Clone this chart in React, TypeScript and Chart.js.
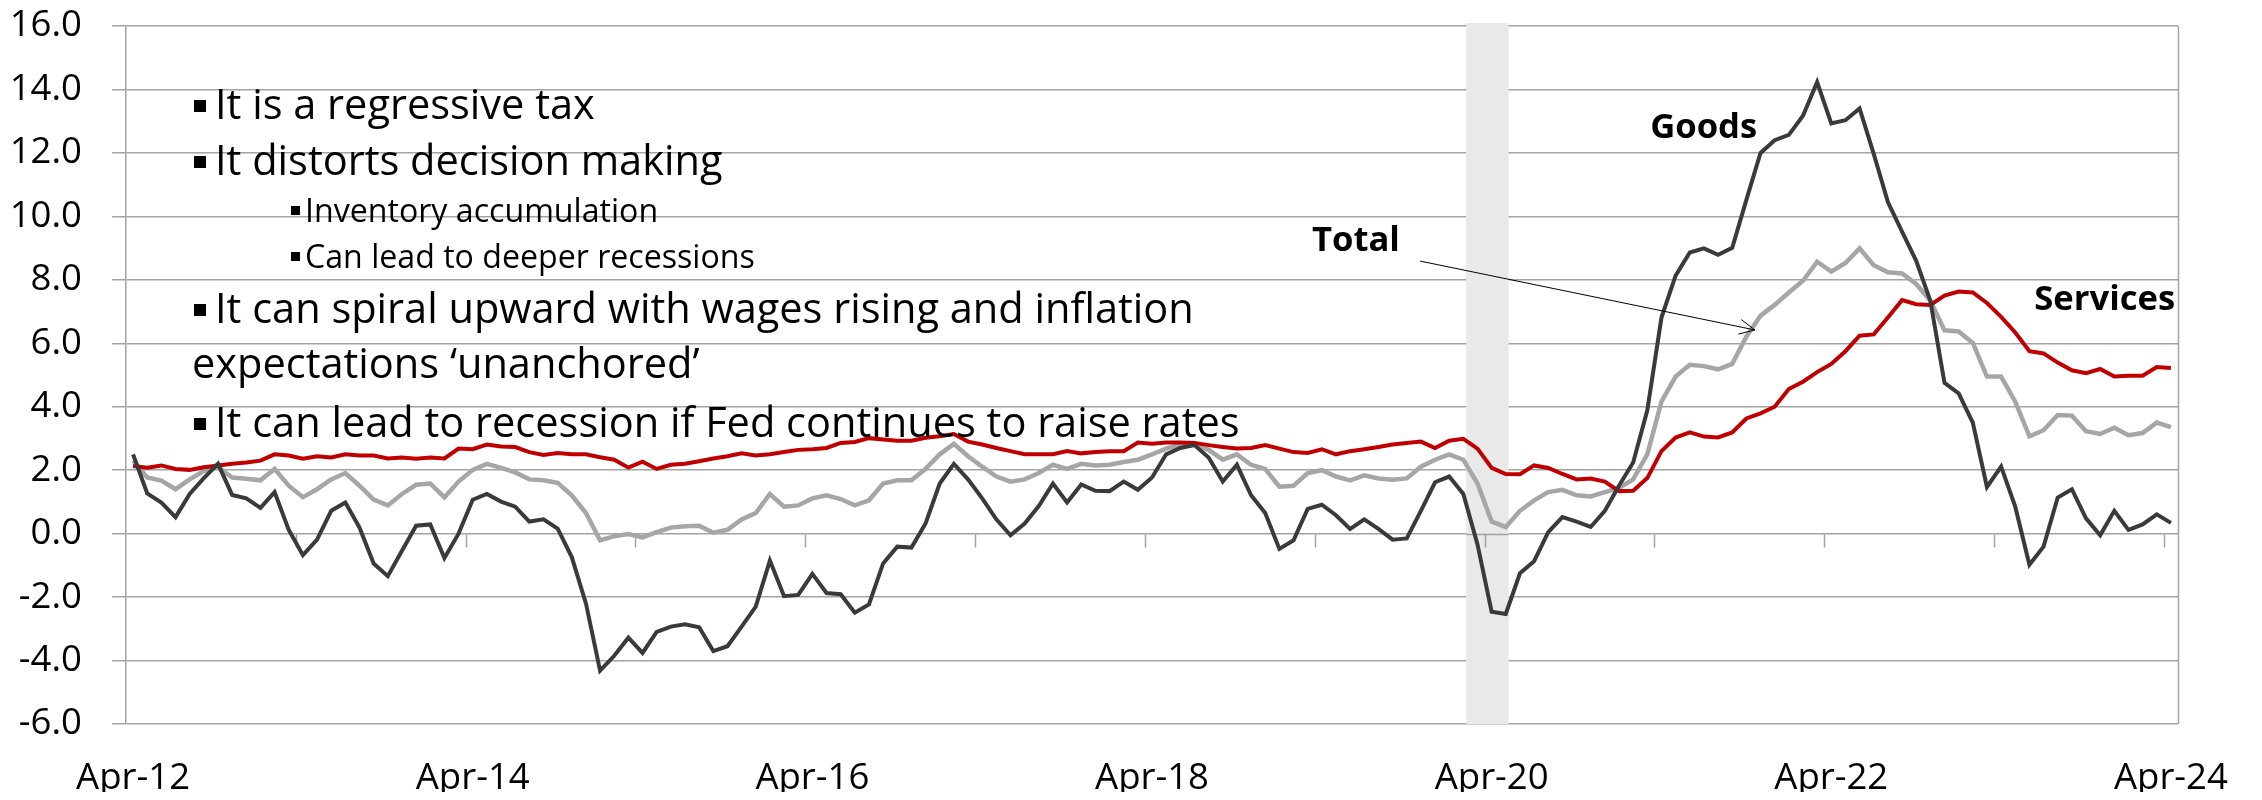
import React, { useEffect, useRef } from 'react';
import { Chart, registerables } from 'chart.js';

Chart.register(...registerables);

// ---------- data ----------
const MONTH_NAMES = ['Jan', 'Feb', 'Mar', 'Apr', 'May', 'Jun', 'Jul', 'Aug', 'Sep', 'Oct', 'Nov', 'Dec'];
const FIRST_YEAR = 2012;
const FIRST_MONTH = 3; // April
const N_MONTHS = 145; // Apr-12 .. Apr-24

const categories: string[] = [];
for (let i = 0; i < N_MONTHS; i++) {
  const m = (FIRST_MONTH + i) % 12;
  const yr = FIRST_YEAR + Math.floor((FIRST_MONTH + i) / 12);
  categories.push(`${MONTH_NAMES[m]}-${String(yr).slice(2)}`);
}

const goods = [
  2.5, 1.27, 0.98, 0.52, 1.25, 1.75, 2.2, 1.22, 1.11, 0.81, 1.31, 0.12,
  -0.68, -0.19, 0.72, 0.98, 0.19, -0.94, -1.34, -0.54, 0.25, 0.29, -0.77, 0.0,
  1.07, 1.25, 1.01, 0.85, 0.38, 0.45, 0.16, -0.74, -2.2, -4.32, -3.85, -3.28,
  -3.76, -3.1, -2.93, -2.86, -2.95, -3.7, -3.55, -2.93, -2.3, -0.85, -1.97, -1.93,
  -1.27, -1.87, -1.91, -2.49, -2.23, -0.94, -0.41, -0.44, 0.32, 1.58, 2.2, 1.71,
  1.11, 0.45, -0.05, 0.32, 0.87, 1.58, 0.98, 1.55, 1.35, 1.34, 1.64, 1.38,
  1.77, 2.5, 2.7, 2.79, 2.4, 1.64, 2.17, 1.21, 0.65, -0.48, -0.21, 0.78,
  0.91, 0.58, 0.15, 0.45, 0.15, -0.19, -0.15, 0.72, 1.62, 1.8, 1.25, -0.34,
  -2.46, -2.53, -1.25, -0.87, 0.05, 0.52, 0.38, 0.21, 0.72, 1.51, 2.24, 3.89,
  6.81, 8.13, 8.86, 8.99, 8.79, 9.01, 10.52, 12.0, 12.4, 12.57, 13.17, 14.23,
  12.93, 13.03, 13.4, 11.97, 10.45, 9.52, 8.6, 7.34, 4.75, 4.42, 3.5, 1.47,
  2.11, 0.85, -0.98, -0.41, 1.14, 1.4, 0.48, -0.05, 0.72, 0.12, 0.29, 0.61,
  0.34,
];

const total = [
  2.3, 1.77, 1.67, 1.4, 1.71, 1.97, 2.1, 1.77, 1.73, 1.68, 2.04, 1.51,
  1.15, 1.4, 1.71, 1.91, 1.51, 1.07, 0.89, 1.25, 1.54, 1.58, 1.14, 1.64,
  2.01, 2.2, 2.07, 1.93, 1.71, 1.68, 1.6, 1.21, 0.65, -0.21, -0.08, -0.01,
  -0.12, 0.05, 0.19, 0.23, 0.25, 0.03, 0.12, 0.45, 0.65, 1.25, 0.85, 0.89,
  1.11, 1.21, 1.09, 0.89, 1.05, 1.58, 1.68, 1.68, 2.04, 2.5, 2.83, 2.44,
  2.11, 1.8, 1.64, 1.71, 1.91, 2.17, 2.04, 2.2, 2.15, 2.17, 2.26, 2.33,
  2.5, 2.68, 2.81, 2.81, 2.64, 2.33, 2.5, 2.17, 2.04, 1.48, 1.51, 1.91,
  2.0, 1.8, 1.68, 1.84, 1.74, 1.7, 1.74, 2.11, 2.33, 2.5, 2.33, 1.58,
  0.38, 0.21, 0.72, 1.05, 1.31, 1.38, 1.21, 1.17, 1.31, 1.44, 1.71, 2.5,
  4.16, 4.95, 5.32, 5.28, 5.18, 5.35, 6.21, 6.87, 7.21, 7.6, 7.97, 8.57,
  8.26, 8.53, 8.99, 8.46, 8.24, 8.2, 7.87, 7.34, 6.41, 6.37, 6.01, 4.95,
  4.95, 4.16, 3.07, 3.26, 3.74, 3.72, 3.23, 3.14, 3.34, 3.1, 3.17, 3.5,
  3.36,
];

const services = [
  2.13, 2.08, 2.15, 2.04, 2.01, 2.09, 2.15, 2.2, 2.24, 2.3, 2.5, 2.46,
  2.36, 2.44, 2.4, 2.5, 2.46, 2.46, 2.37, 2.4, 2.36, 2.4, 2.37, 2.68,
  2.66, 2.81, 2.75, 2.73, 2.57, 2.48, 2.54, 2.5, 2.5, 2.41, 2.33, 2.08,
  2.27, 2.04, 2.17, 2.2, 2.28, 2.37, 2.44, 2.53, 2.46, 2.5, 2.57, 2.64,
  2.66, 2.7, 2.86, 2.89, 3.01, 2.97, 2.93, 2.93, 3.02, 3.07, 3.14, 2.9,
  2.81, 2.7, 2.6, 2.5, 2.5, 2.5, 2.6, 2.53, 2.57, 2.6, 2.6, 2.87,
  2.83, 2.87, 2.87, 2.86, 2.79, 2.73, 2.68, 2.7, 2.79, 2.68, 2.57, 2.54,
  2.66, 2.5, 2.6, 2.66, 2.73, 2.81, 2.86, 2.9, 2.7, 2.93, 2.99, 2.68,
  2.07, 1.88, 1.87, 2.15, 2.07, 1.88, 1.71, 1.74, 1.64, 1.34, 1.35, 1.75,
  2.6, 3.03, 3.19, 3.06, 3.03, 3.19, 3.63, 3.79, 4.0, 4.56, 4.79, 5.09,
  5.35, 5.75, 6.24, 6.28, 6.81, 7.36, 7.23, 7.21, 7.5, 7.63, 7.6, 7.27,
  6.83, 6.34, 5.75, 5.68, 5.39, 5.15, 5.06, 5.19, 4.95, 4.98, 4.98, 5.25,
  5.22,
];

const Y_MIN = -6;
const Y_MAX = 16;
const Y_STEP = 2;
const LABEL_EVERY = 24; // months between x labels
const TICK_EVERY = 12; // months between tick marks

// recession shading (category index units)
const RECESSION_FROM = 94.2;
const RECESSION_TO = 97.2;

const bulletLines = [
  { text: 'It is a regressive tax', level: 1 },
  { text: 'It distorts decision making', level: 1 },
  { text: 'Inventory accumulation', level: 2 },
  { text: 'Can lead to deeper recessions', level: 2 },
  { text: 'It can spiral upward with wages rising and inflation', level: 1 },
  { text: 'expectations \u2018unanchored\u2019', level: 0 },
  { text: 'It can lead to recession if Fed continues to raise rates', level: 1 },
];

// ---------- style ----------
const FONT = "'Open Sans', 'Noto Sans', sans-serif";
const GRID = '#a3a3a3';
const BAND = '#e9e9e9';
const C_GOODS = '#3a3a3a';
const C_TOTAL = '#a6a6a6';
const C_SERV = '#c00000';

const W = 2262;
const H = 800;

function fitSize(text: string, weight: string, target: number): number {
  const c = document.createElement('canvas').getContext('2d')!;
  c.font = `${weight} 100px ${FONT}`;
  return (100 * target) / c.measureText(text).width;
}

export default function App() {
  const ref = useRef<HTMLCanvasElement | null>(null);

  useEffect(() => {
    if (!ref.current) return;
    const axisSize = fitSize('Apr-12', 'normal', 114);
    const bigSize = fitSize(bulletLines[6].text, 'normal', 1025);
    const smallSize = fitSize(bulletLines[3].text, 'normal', 450);
    const boldSize = fitSize('Services', 'bold', 141);

    // text block layout (canvas px)
    const baselines = [119, 175, 222, 268, 323, 378, 437];

    const annot = {
      id: 'annot',
      beforeDatasetsDraw(chart: any) {
        const { ctx, chartArea: a, scales } = chart;
        const x = scales.x;
        const y = scales.y;
        ctx.save();
        const bx0 = x.getPixelForValue(RECESSION_FROM);
        const bx1 = x.getPixelForValue(RECESSION_TO);
        ctx.fillStyle = BAND;
        ctx.fillRect(bx0, a.top - 3, bx1 - bx0, a.bottom - a.top + 3);

        ctx.strokeStyle = GRID;
        ctx.lineWidth = 1.5;
        const y0 = Math.round(y.getPixelForValue(0)) + 0.5;
        ctx.beginPath();
        ctx.moveTo(bx0, y0);
        ctx.lineTo(bx1, y0);
        ctx.stroke();
        for (let k = 1; k * TICK_EVERY < categories.length; k++) {
          const px = Math.round(x.getPixelForValue(k * TICK_EVERY - 0.5)) + 0.5;
          ctx.beginPath();
          ctx.moveTo(px, y0);
          ctx.lineTo(px, y0 + 13);
          ctx.stroke();
        }
        ctx.beginPath();
        const rx = Math.round(a.right) + 0.5;
        ctx.moveTo(rx, a.top);
        ctx.lineTo(rx, a.bottom);
        ctx.stroke();
        ctx.restore();
      },
      afterDatasetsDraw(chart: any) {
        const { ctx, scales } = chart;
        const x = scales.x;
        const y = scales.y;
        ctx.save();
        ctx.fillStyle = '#000';
        ctx.textBaseline = 'alphabetic';
        ctx.textAlign = 'left';

        bulletLines.forEach((ln, i) => {
          const b = baselines[i];
          if (ln.level === 1) {
            ctx.fillRect(194, b - 19, 12, 12);
            ctx.font = `${bigSize}px ${FONT}`;
            ctx.fillText(ln.text, 215, b);
          } else if (ln.level === 2) {
            ctx.fillRect(291, b - 16, 9, 9);
            ctx.font = `${smallSize}px ${FONT}`;
            ctx.fillText(ln.text, 305, b);
          } else {
            ctx.font = `${bigSize}px ${FONT}`;
            ctx.fillText(ln.text, 192, b);
          }
        });

        ctx.font = `bold ${boldSize}px ${FONT}`;
        ctx.fillText('Goods', x.getPixelForValue(107.2), y.getPixelForValue(12.47));
        ctx.fillText('Total', x.getPixelForValue(83.3), y.getPixelForValue(8.92));
        ctx.textAlign = 'right';
        ctx.fillText('Services', x.getPixelForValue(144.3), y.getPixelForValue(7.06));

        // arrow from "Total" label to the total line
        const ax0 = x.getPixelForValue(90.95);
        const ay0 = y.getPixelForValue(8.59);
        const ax1 = x.getPixelForValue(114.6);
        const ay1 = y.getPixelForValue(6.42);
        ctx.strokeStyle = '#000';
        ctx.lineWidth = 1;
        ctx.beginPath();
        ctx.moveTo(ax0, ay0);
        ctx.lineTo(ax1, ay1);
        const ang = Math.atan2(ay1 - ay0, ax1 - ax0);
        const len = 17;
        const spread = 0.45;
        ctx.moveTo(ax1 - len * Math.cos(ang - spread), ay1 - len * Math.sin(ang - spread));
        ctx.lineTo(ax1, ay1);
        ctx.lineTo(ax1 - len * Math.cos(ang + spread), ay1 - len * Math.sin(ang + spread));
        ctx.stroke();
        ctx.restore();
      },
    };

    const chart = new Chart(ref.current, {
      type: 'line',
      data: {
        labels: categories,
        datasets: [
          { label: 'Goods', data: goods, borderColor: C_GOODS, borderWidth: 4, pointRadius: 0, tension: 0, fill: false },
          { label: 'Services', data: services, borderColor: C_SERV, borderWidth: 4, pointRadius: 0, tension: 0, fill: false },
          { label: 'Total', data: total, borderColor: C_TOTAL, borderWidth: 4.5, pointRadius: 0, tension: 0, fill: false },
        ],
      },
      options: {
        animation: false,
        responsive: true,
        maintainAspectRatio: false,
        devicePixelRatio: 1,
        layout: { padding: { left: 0, right: 84, top: 26, bottom: 0 } },
        plugins: { legend: { display: false }, tooltip: { enabled: false } },
        scales: {
          x: {
            type: 'category',
            offset: true,
            grid: { display: false, drawTicks: false, offset: true },
            border: { display: false },
            ticks: {
              autoSkip: false,
              maxRotation: 0,
              minRotation: 0,
              padding: 33,
              color: '#000',
              font: { family: FONT, size: axisSize },
              callback: (_v: any, i: number) => (i % LABEL_EVERY === 0 ? categories[i] : ''),
            },
            afterFit: (s: any) => {
              s.height = 76;
              s.paddingLeft = 0;
              s.paddingRight = 0;
            },
          },
          y: {
            min: Y_MIN,
            max: Y_MAX,
            grid: { color: GRID, lineWidth: 1.5, tickLength: 14, drawTicks: true },
            border: { display: true, color: GRID, width: 1.5 },
            ticks: {
              stepSize: Y_STEP,
              padding: 30,
              color: '#000',
              font: { family: FONT, size: axisSize },
              callback: (v: any) => Number(v).toFixed(1),
            },
            afterFit: (s: any) => {
              s.width = 126;
              s.paddingTop = 0;
              s.paddingBottom = 0;
            },
          },
        },
      },
      plugins: [annot],
    });
    return () => chart.destroy();
  }, []);

  return (
    <div style={{ position: 'relative', width: W, height: H, margin: -8, background: '#fff' }}>
      <canvas ref={ref} />
    </div>
  );
}
